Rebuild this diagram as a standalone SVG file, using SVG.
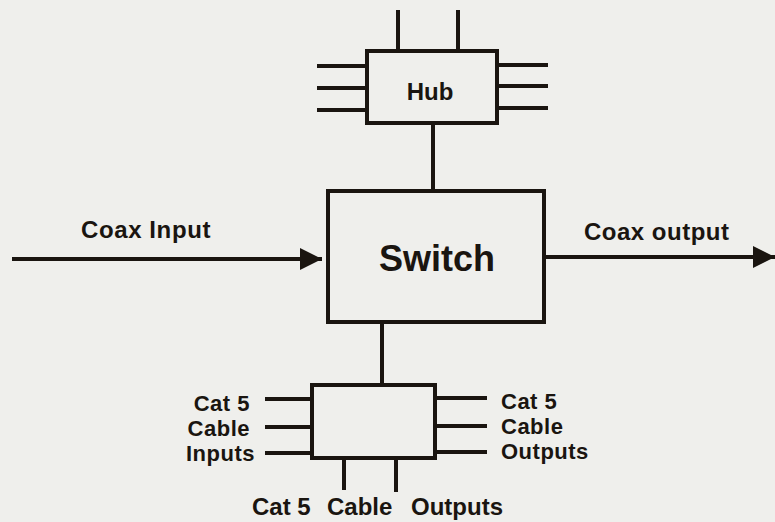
<svg xmlns="http://www.w3.org/2000/svg" width="775" height="522" viewBox="0 0 775 522">
<defs>
<marker id="arr" markerUnits="userSpaceOnUse" markerWidth="24" markerHeight="22" refX="22" refY="11" orient="auto"><path d="M0,0 L22,11 L0,22 Z" fill="#1a1510"/></marker>
</defs>
<style>
.box{fill:none;stroke:#1a1510;stroke-width:4}
.ln{stroke:#1a1510;stroke-width:4;fill:none}
text{font-family:"Liberation Sans",Arial,sans-serif;font-weight:bold;fill:#1a1510;font-size:24px}
.sm{font-size:22px}
</style>
<rect width="775" height="522" fill="#efefec"/>
<g id="connectors">
<line class="ln" x1="433" y1="123" x2="433" y2="191"/>
<line class="ln" x1="382" y1="322" x2="382" y2="385"/>
<line class="ln" x1="12" y1="259" x2="322" y2="259" marker-end="url(#arr)"/>
<line class="ln" x1="544" y1="257" x2="775" y2="257" marker-end="url(#arr)"/>
</g>
<g id="hub">
<rect class="box" x="367" y="51" width="130" height="72"/>
<line class="ln" x1="398" y1="10" x2="398" y2="51"/>
<line class="ln" x1="458" y1="10" x2="458" y2="51"/>
<line class="ln" x1="317" y1="66" x2="367" y2="66"/>
<line class="ln" x1="317" y1="88" x2="367" y2="88"/>
<line class="ln" x1="317" y1="110" x2="367" y2="110"/>
<line class="ln" x1="497" y1="65" x2="548" y2="65"/>
<line class="ln" x1="497" y1="86" x2="548" y2="86"/>
<line class="ln" x1="497" y1="108" x2="548" y2="108"/>
<text x="430" y="100" text-anchor="middle">Hub</text>
</g>
<g id="switch">
<rect class="box" x="328" y="191" width="216" height="131"/>
<text x="437" y="271" text-anchor="middle" style="font-size:36px">Switch</text>
</g>
<g id="coax-input">
<text x="81" y="238" letter-spacing="0.6">Coax Input</text>
</g>
<g id="coax-output">
<text x="584" y="240" letter-spacing="0.5">Coax output</text>
</g>
<g id="distributor">
<rect class="box" x="312" y="385" width="123" height="73"/>
<line class="ln" x1="265" y1="399" x2="312" y2="399"/>
<line class="ln" x1="265" y1="427" x2="312" y2="427"/>
<line class="ln" x1="265" y1="453" x2="312" y2="453"/>
<line class="ln" x1="435" y1="398" x2="487" y2="398"/>
<line class="ln" x1="435" y1="426" x2="487" y2="426"/>
<line class="ln" x1="435" y1="452" x2="487" y2="452"/>
<line class="ln" x1="344" y1="460" x2="344" y2="490"/>
<line class="ln" x1="396" y1="460" x2="396" y2="492"/>
<text class="sm" x="250" y="411" text-anchor="end" letter-spacing="0.5">Cat 5</text>
<text class="sm" x="250" y="436" text-anchor="end" letter-spacing="0.5">Cable</text>
<text class="sm" x="255" y="461" text-anchor="end" letter-spacing="0.5">Inputs</text>
<text class="sm" x="501" y="409" letter-spacing="0.5">Cat 5</text>
<text class="sm" x="501" y="434" letter-spacing="0.5">Cable</text>
<text class="sm" x="501" y="459" letter-spacing="0.5">Outputs</text>
<text x="252" y="515">Cat 5</text>
<text x="327" y="515">Cable</text>
<text x="411" y="515">Outputs</text>
</g>
</svg>
